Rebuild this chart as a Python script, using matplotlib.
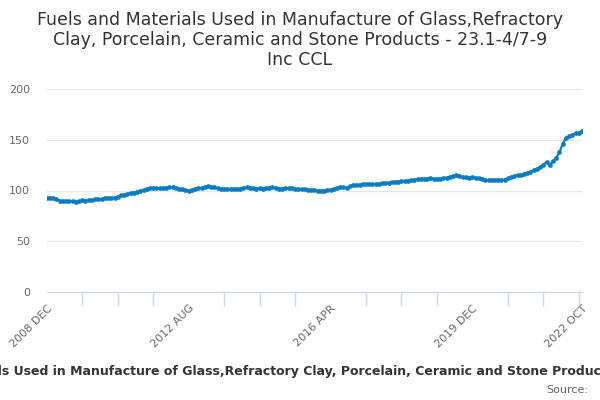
import numpy as np
import pandas as pd
import matplotlib
matplotlib.use('Agg')
import matplotlib.pyplot as plt

title = ('Fuels and Materials Used in Manufacture of Glass,Refractory\n'
         'Clay, Porcelain, Ceramic and Stone Products - 23.1-4/7-9\n'
         'Inc CCL')
series_name = ('Fuels and Materials Used in Manufacture of Glass,Refractory Clay, '
               'Porcelain, Ceramic and Stone Products - 23.1-4/7-9 Inc CCL')

# monthly, 2008 DEC .. 2022 OCT
months = [p.strftime('%Y %b').upper() for p in pd.period_range('2008-12', '2022-10', freq='M')]

values = [
    92.8, 93.0, 92.5, 91.5, 90.0, 89.6, 89.3, 89.2, 89.4, 89.1,
    89.5, 90.2, 90.0, 90.8, 90.6, 91.2, 91.5, 91.3, 92.4, 92.2,
    92.8, 93.1, 94.0, 95.2, 95.8, 96.7, 97.3, 98.0, 98.8, 99.3,
    100.4, 101.6, 102.3, 102.0, 102.5, 102.1, 102.3, 102.8, 103.0, 103.3,
    102.6, 101.8, 101.0, 100.5, 100.0, 100.9, 101.6, 102.3, 102.7, 103.3,
    104.0, 103.6, 103.0, 102.1, 101.5, 101.8, 101.4, 101.7, 101.7, 101.5,
    101.8, 102.0, 103.4, 102.9, 102.4, 101.9, 102.0, 101.6, 102.2, 102.8,
    103.4, 102.6, 101.7, 101.9, 102.1, 102.4, 102.0, 101.8, 101.7, 101.3,
    101.0, 100.7, 100.4, 100.2, 100.0, 99.8, 100.0, 100.3, 100.8, 101.4,
    102.4, 103.4, 103.0, 102.7, 104.0, 105.0, 105.4, 105.9, 106.3, 106.1,
    106.4, 106.2, 106.3, 106.7, 107.0, 107.3, 107.6, 108.0, 108.4, 108.7,
    109.0, 109.4, 109.8, 110.0, 110.6, 111.0, 111.4, 111.7, 111.5, 111.9,
    111.6, 111.4, 111.7, 112.2, 112.7, 113.5, 114.2, 114.9, 114.4, 113.3,
    113.0, 112.8, 112.9, 112.7, 112.0, 111.2, 110.0, 110.3, 110.6, 110.4,
    110.7, 110.5, 110.7, 112.0, 113.2, 114.3, 114.8, 115.5, 116.4, 117.2,
    118.5, 119.8, 121.4, 123.0, 125.0, 128.0, 125.5, 129.0, 132.0, 137.6,
    145.8, 151.6, 153.5, 154.9, 156.2, 157.1, 158.5,
]

label_idx = [0, 44, 88, 132, 166]
tick_idx = list(range(0, 166, 11))
yticks = [0, 50, 100, 150, 200]

fig = plt.figure(figsize=(6, 4), dpi=100)
ax = fig.add_axes([0.078, 0.27, 0.892, 0.5075])

x = np.arange(len(values))
ax.plot(x, values, color='#0a7cc4', linewidth=1.6, marker='o', markersize=3.4,
        markeredgewidth=0, zorder=3)

ax.set_xlim(0, len(values) - 1)
ax.set_ylim(0, 200)
ax.set_yticks(yticks)
ax.yaxis.grid(True, color='#e6e6e6', linewidth=1)
ax.set_axisbelow(True)

ax.set_xticks(label_idx)
ax.set_xticklabels([months[i] for i in label_idx], rotation=45, ha='right',
                   va='top', rotation_mode='anchor')
ax.set_xticks(tick_idx, minor=True)
ax.tick_params(axis='x', which='major', length=0, pad=8, labelsize=8, labelcolor='#666666')
ax.tick_params(axis='x', which='minor', length=10, color='#ccd6eb', width=1)
ax.tick_params(axis='y', length=0, pad=12, labelsize=8, labelcolor='#666666')

for s in ['top', 'right', 'left']:
    ax.spines[s].set_visible(False)
ax.spines['bottom'].set_color('#ccd6eb')

fig.text(0.5, 0.972, title, ha='center', va='top', fontsize=12.5,
         color='#333333', linespacing=1.15)
# legend-like series label, wider than the figure, clipped at both sides
fig.text(0.523, 0.072, series_name, ha='center', va='center', fontsize=9,
         fontweight='bold', color='#333333')
fig.text(0.98, 0.025, 'Source:', ha='right', va='center', fontsize=8, color='#666666')

fig.savefig('out.png', dpi=100)
